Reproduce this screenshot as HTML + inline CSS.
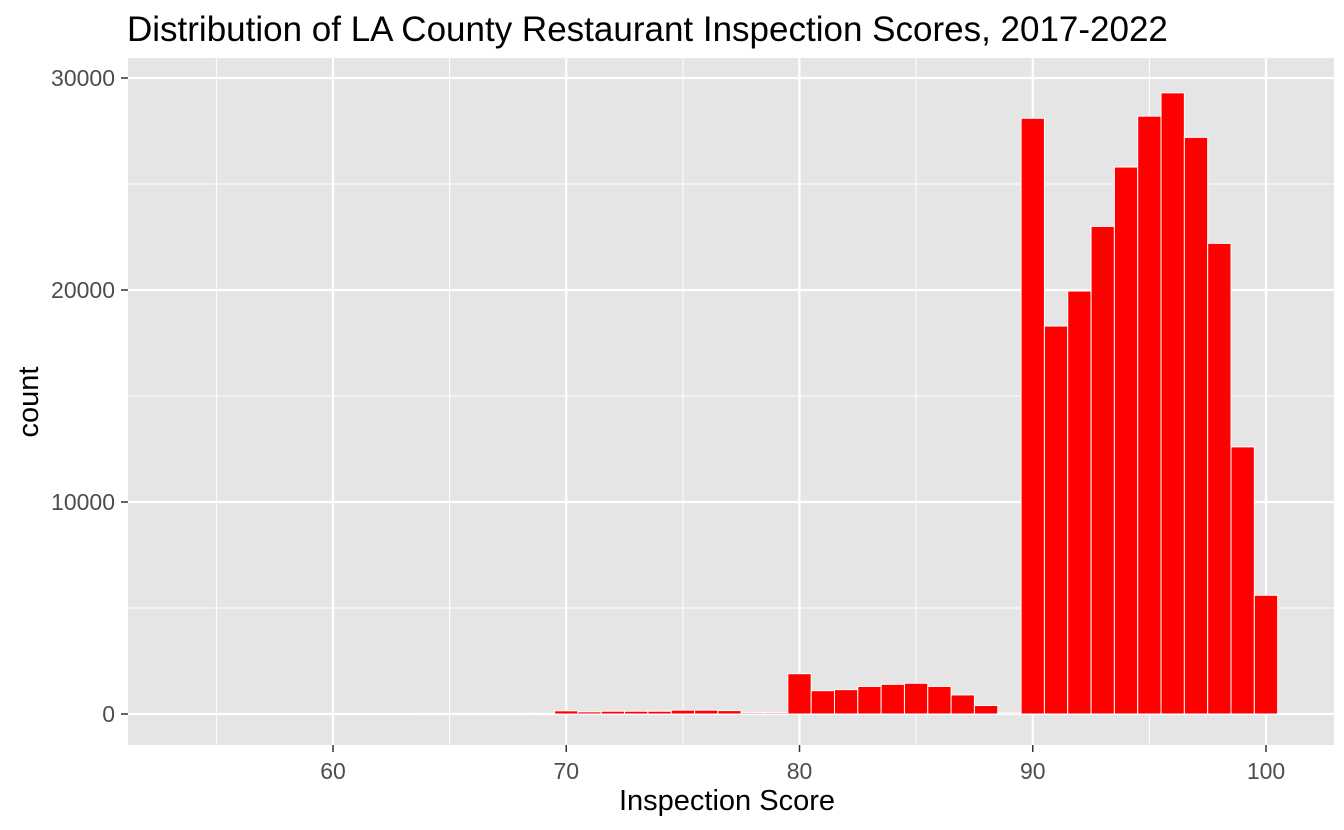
<!DOCTYPE html>
<html><head><meta charset="utf-8"><style>
body{margin:0;background:#fff;}
svg{display:block;font-family:"Liberation Sans",Arial,sans-serif;}
</style></head><body>
<svg id="chart" width="1344" height="830">
<text x="127" y="41" font-size="35" fill="#000">Distribution of LA County Restaurant Inspection Scores, 2017-2022</text>
<rect x="128" y="58" width="1206" height="687" fill="#e5e5e5"/>
<g id="grid"></g><g id="bars"></g><g id="axes"></g>
<text x="727" y="810" font-size="29" text-anchor="middle" fill="#000">Inspection Score</text>
<text transform="translate(38,402) rotate(-90)" font-size="29" text-anchor="middle" fill="#000">count</text>
</svg>
<script>
const scores=[56,57,58,59,60,61,62,63,64,65,66,67,68,69,70,71,72,73,74,75,76,77,78,79,80,81,82,83,84,85,86,87,88,89,90,91,92,93,94,95,96,97,98,99,100];
const counts=[5,8,12,15,18,20,25,25,28,30,32,30,35,35,150,100,130,130,130,180,180,160,60,60,1900,1100,1150,1300,1400,1450,1300,900,400,50,28100,18300,19950,23000,25800,28200,29300,27200,22200,12600,5600];
const xTicks=[60,70,80,90,100];
const xMinor=[55,65,75,85,95];
const yTicks=[0,10000,20000,30000];
const yMinor=[5000,15000,25000];
const NS="http://www.w3.org/2000/svg";
const xs=v=>333+(v-60)*23.325;
const ys=v=>714-v*0.0212;
function mk(tag,attrs,parent){const e=document.createElementNS(NS,tag);for(const k in attrs)e.setAttribute(k,attrs[k]);document.getElementById(parent).appendChild(e);return e;}
yMinor.forEach(v=>{const l=mk('line',{x1:128,x2:1334,y1:ys(v),y2:ys(v),stroke:'#fff','stroke-width':1},'grid');

});
xMinor.forEach(v=>{const l=mk('line',{x1:xs(v),x2:xs(v),y1:58,y2:745,stroke:'#fff','stroke-width':1},'grid');

});
yTicks.forEach(v=>{const l=mk('line',{x1:128,x2:1334,y1:ys(v),y2:ys(v),stroke:'#fff','stroke-width':2.2},'grid');


const t=mk('text',{x:115,y:ys(v)+8,'font-size':23,'text-anchor':'end',fill:'#4d4d4d'},'axes');t.textContent=v;


const k=mk('line',{x1:121,x2:128,y1:ys(v),y2:ys(v),stroke:'#333','stroke-width':1.5},'axes');

});
xTicks.forEach(v=>{const l=mk('line',{x1:xs(v),x2:xs(v),y1:58,y2:745,stroke:'#fff','stroke-width':2.2},'grid');


const t=mk('text',{x:xs(v),y:779,'font-size':23,'text-anchor':'middle',fill:'#4d4d4d'},'axes');t.textContent=v;


const k=mk('line',{x1:xs(v),x2:xs(v),y1:745,y2:752,stroke:'#333','stroke-width':1.5},'axes');

});
scores.forEach((s,i)=>{const y=ys(counts[i]);const r=mk('rect',{x:xs(s-0.5),y:y,width:23.325,height:Math.max(ys(0)-y,0.5),fill:'#ff0000',stroke:'#fff','stroke-width':1},'bars');

});
</script>
</body></html>
